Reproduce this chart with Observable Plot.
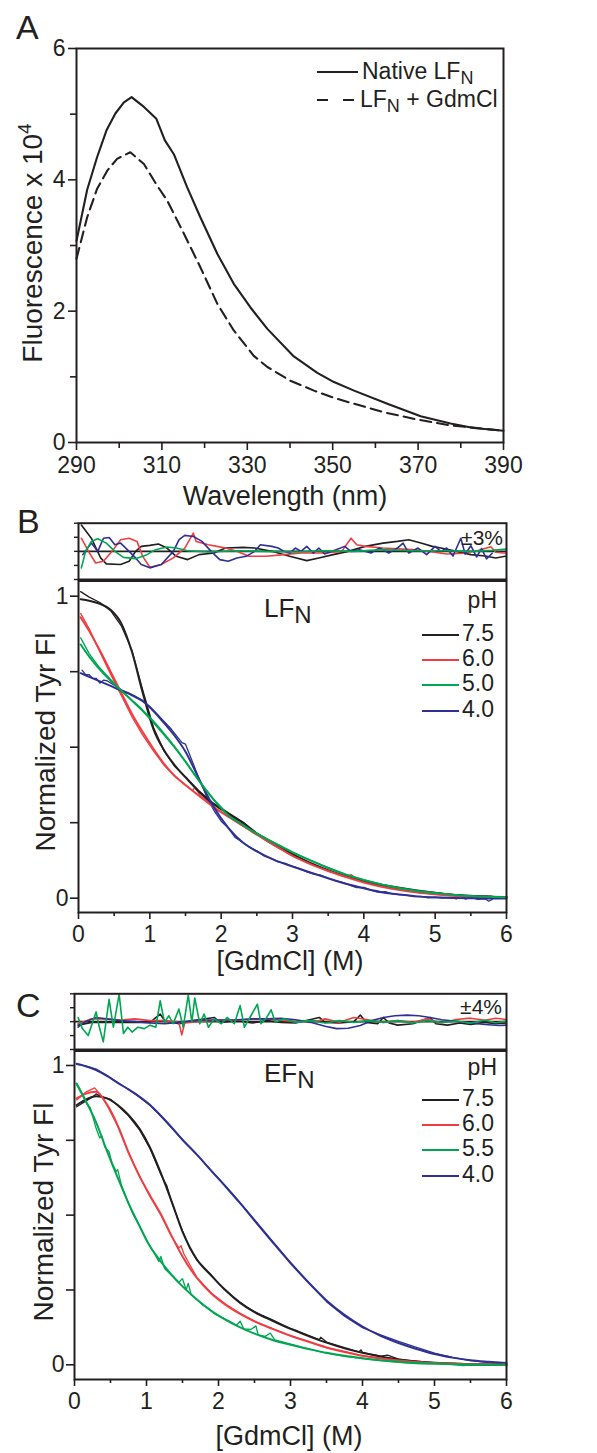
<!DOCTYPE html>
<html><head><meta charset="utf-8">
<script src="https://cdn.jsdelivr.net/npm/d3@7"></script>
<script src="https://cdn.jsdelivr.net/npm/@observablehq/plot@0.6"></script>
<style>
html,body{margin:0;padding:0;background:#fff;}
#fig{position:relative;width:597px;height:1453px;overflow:hidden;background:#fff;}
</style></head><body><div id="fig"></div>
<script>
const INK = "#231f20", RED = "#ef3e42", GREEN = "#00a651", BLUE = "#2e3192";
const FONT = '"Liberation Sans", Arial, Helvetica, sans-serif';

// ---------- Panel A : emission spectra ----------
const wlTicksMajor = [290, 310, 330, 350, 370, 390];
const wlTicksMinor = [300, 320, 340, 360, 380];
const fluTicksMajor = [0, 2, 4, 6];
const fluTicksMinor = [1, 3, 5];
const specNative = [[290,3.07],[292.5,3.85],[294.8,4.34],[297,4.75],[299.1,5.01],[301.1,5.18],[302.9,5.26],[305.8,5.11],[308.7,4.93],[310.7,4.60],[312.8,4.39],[315.9,3.89],[319,3.43],[323,2.87],[326.8,2.42],[330.7,2.06],[334.7,1.73],[340.9,1.31],[346.4,1.06],[350.3,0.92],[355,0.79],[362.8,0.59],[370.6,0.40],[377.6,0.29],[383,0.22],[390,0.18]];
const specGdm = [[290,2.80],[292.5,3.43],[294.8,3.86],[297.2,4.14],[299.5,4.32],[302.6,4.42],[305.8,4.24],[308.9,3.91],[311.2,3.69],[315,3.20],[319,2.67],[323,2.11],[326.8,1.71],[331.5,1.32],[334.7,1.15],[340.1,0.94],[345.6,0.79],[350.3,0.68],[355,0.59],[362,0.46],[369.8,0.35],[377.6,0.26],[385.4,0.21],[390,0.18]];

// ---------- shared GdmCl axes ----------
const mTicksMajor = [0, 1, 2, 3, 4, 5, 6];
const mTicksMinor = [0.5, 1.5, 2.5, 3.5, 4.5, 5.5];
const fiTicks = [0, 0.25, 0.5, 0.75, 1];
const fiLabels = [0, 1];
const resTicksB = [-3, -1.5, 0, 1.5, 3];
const resTicksC = [-4, -2, 0, 2, 4];

// ---------- Panel B : LFN ----------
const phB = ["7.5", "6.0", "5.0", "4.0"];
const fitB75 = [[0.03,0.99],[0.15,0.985],[0.3,0.975],[0.45,0.955],[0.6,0.91],[0.75,0.815],[0.9,0.68],[1.05,0.56],[1.2,0.49],[1.35,0.44],[1.5,0.40],[1.7,0.35],[1.9,0.31],[2.1,0.28],[2.3,0.25],[2.5,0.213],[2.75,0.175],[3,0.145],[3.25,0.117],[3.5,0.093],[3.75,0.073],[4,0.056],[4.25,0.043],[4.5,0.032],[4.75,0.023],[5,0.016],[5.25,0.011],[5.5,0.008],[5.75,0.005],[6,0.004]];
const datB75 = [[0.03,1.015],[0.15,0.997],[0.3,0.979],[0.45,0.952],[0.6,0.902],[0.75,0.82],[0.9,0.69],[1.05,0.566],[1.2,0.487],[1.35,0.436],[1.5,0.402],[1.7,0.353],[1.9,0.313],[2.1,0.283],[2.3,0.253],[2.5,0.216],[2.75,0.179],[3,0.147],[3.25,0.114],[3.5,0.09],[3.75,0.073],[4,0.058],[4.25,0.046],[4.5,0.036],[4.75,0.027],[5,0.019],[5.25,0.011],[5.5,0.006],[5.75,0.003],[5.95,0.001]];
const fitB60 = [[0.03,0.93],[0.15,0.885],[0.3,0.82],[0.45,0.75],[0.6,0.68],[0.75,0.61],[0.9,0.55],[1.05,0.495],[1.2,0.445],[1.35,0.405],[1.5,0.375],[1.7,0.337],[1.9,0.30],[2.1,0.27],[2.3,0.24],[2.5,0.21],[2.75,0.175],[3,0.14],[3.25,0.113],[3.5,0.09],[3.75,0.07],[4,0.052],[4.25,0.038],[4.5,0.027],[4.75,0.019],[5,0.013],[5.25,0.008],[5.5,0.005],[5.75,0.003],[6,0.002]];
const datB60 = [[0.03,0.943],[0.15,0.892],[0.3,0.815],[0.45,0.742],[0.6,0.671],[0.75,0.6],[0.9,0.54],[1.0,0.505],[1.05,0.488],[1.2,0.44],[1.35,0.403],[1.5,0.374],[1.6,0.356],[1.63,0.367],[1.7,0.342],[1.9,0.302],[2.1,0.27],[2.3,0.24],[2.5,0.21],[2.75,0.176],[3,0.142],[3.25,0.114],[3.5,0.09],[3.75,0.07],[3.82,0.078],[3.9,0.064],[4,0.055],[4.25,0.039],[4.5,0.028],[4.75,0.02],[5,0.013],[5.25,0.008],[5.5,0.005],[5.78,0.008],[5.85,0.003],[6,0.001]];
const fitB50 = [[0.03,0.84],[0.15,0.80],[0.3,0.757],[0.45,0.72],[0.6,0.687],[0.75,0.655],[0.9,0.622],[1.05,0.585],[1.2,0.544],[1.35,0.50],[1.5,0.452],[1.7,0.385],[1.9,0.325],[2.1,0.275],[2.3,0.243],[2.5,0.214],[2.75,0.182],[3,0.152],[3.25,0.125],[3.5,0.10],[3.75,0.078],[4,0.06],[4.25,0.045],[4.5,0.033],[4.75,0.024],[5,0.017],[5.25,0.011],[5.5,0.007],[5.75,0.005],[6,0.003]];
const datB50 = [[0.03,0.862],[0.15,0.81],[0.3,0.762],[0.45,0.724],[0.6,0.688],[0.75,0.653],[0.9,0.619],[1.05,0.581],[1.2,0.54],[1.35,0.498],[1.5,0.452],[1.7,0.386],[1.9,0.326],[2.1,0.277],[2.3,0.244],[2.5,0.215],[2.75,0.183],[3,0.153],[3.25,0.126],[3.5,0.101],[3.75,0.079],[4,0.061],[4.25,0.046],[4.5,0.034],[4.75,0.025],[5,0.018],[5.25,0.012],[5.5,0.007],[5.75,0.006],[6,0.005]];
const fitB40 = [[0.03,0.745],[0.15,0.733],[0.3,0.718],[0.45,0.703],[0.6,0.687],[0.75,0.672],[0.9,0.652],[1.05,0.62],[1.2,0.58],[1.35,0.537],[1.5,0.485],[1.7,0.39],[1.9,0.30],[2.1,0.233],[2.3,0.185],[2.5,0.155],[2.75,0.126],[3,0.105],[3.25,0.085],[3.5,0.066],[3.75,0.048],[4,0.033],[4.25,0.02],[4.5,0.012],[4.75,0.006],[5,0.003],[5.25,0.001],[5.5,0],[5.75,-0.001],[6,-0.001]];
const datB40 = [[0.05,0.755],[0.1,0.74],[0.15,0.74],[0.2,0.728],[0.25,0.728],[0.3,0.712],[0.35,0.722],[0.4,0.72],[0.5,0.705],[0.6,0.69],[0.7,0.68],[0.8,0.668],[0.9,0.655],[1.0,0.635],[1.1,0.61],[1.2,0.585],[1.3,0.56],[1.4,0.53],[1.45,0.515],[1.5,0.51],[1.6,0.45],[1.7,0.39],[1.8,0.335],[1.9,0.29],[2.0,0.255],[2.1,0.232],[2.2,0.2],[2.3,0.185],[2.4,0.168],[2.5,0.157],[2.6,0.14],[2.7,0.132],[2.8,0.12],[2.9,0.115],[3.0,0.105],[3.1,0.098],[3.2,0.087],[3.3,0.08],[3.4,0.076],[3.5,0.066],[3.6,0.058],[3.7,0.052],[3.8,0.043],[3.9,0.035],[4.0,0.036],[4.1,0.027],[4.2,0.02],[4.3,0.022],[4.4,0.014],[4.5,0.012],[4.6,0.01],[4.7,0.005],[4.8,0.006],[4.9,0.001],[5.0,0.003],[5.1,0.0],[5.2,0.002],[5.3,-0.002],[5.36,0.01],[5.42,-0.003],[5.5,0.002],[5.6,-0.004],[5.7,-0.002],[5.75,-0.01],[5.8,-0.004]];
const resB75 = [[0.04,2.8],[0.18,1.4],[0.31,-0.7],[0.39,-1.34],[0.59,-1.4],[0.71,-1.06],[0.80,0],[0.88,0.53],[1.0,0.64],[1.12,0.78],[1.24,0.35],[1.37,-0.53],[1.53,-0.88],[1.69,-0.35],[1.90,-0.18],[2.06,0.35],[2.31,0.42],[2.47,0.35],[2.71,0],[2.96,-0.53],[3.2,-0.99],[3.37,-0.7],[3.57,-0.35],[3.78,0],[4.02,0.53],[4.27,0.88],[4.47,1.06],[4.63,1.24],[4.80,0.88],[4.96,0.53],[5.08,0.35],[5.3,0.0],[5.5,-0.35],[5.7,-0.5],[5.85,-0.7],[6.0,-0.5]];
const resB60 = [[0.04,1.4],[0.14,0],[0.24,-1.24],[0.35,-1.06],[0.47,0],[0.59,1.24],[0.71,1.4],[0.82,1.06],[0.90,-0.53],[1.0,-1.7],[1.16,-1.4],[1.33,-0.7],[1.49,0.35],[1.61,1.94],[1.65,1.06],[1.82,0.7],[1.94,0.53],[2.06,0.35],[2.22,0],[2.39,-0.53],[2.63,-0.53],[2.88,-0.35],[3.12,-0.18],[3.45,-0.18],[3.69,0],[3.82,1.4],[3.90,0.7],[4.02,0.53],[4.27,0.35],[4.67,0.18],[4.92,0],[5.16,-0.28],[5.4,-0.2],[5.6,0.1],[5.78,0.5],[5.85,-0.1],[6.0,-0.2]];
const resB50 = [[0.04,-1.76],[0.10,0],[0.18,1.06],[0.27,1.34],[0.39,0.88],[0.51,0],[0.63,-0.64],[0.80,-0.78],[0.96,-0.35],[1.08,0.18],[1.24,0.46],[1.37,0.35],[1.53,0.07],[1.82,-0.07],[2.22,0.07],[2.63,0],[3.04,-0.07],[3.45,0.07],[3.86,0],[4.27,0.18],[4.67,0.07],[5.16,0.07],[5.5,0],[5.8,0.1],[6.0,0.25]];
const resB40 = [[0.06,-0.35],[0.18,0.88],[0.27,0],[0.35,1.4],[0.43,1.48],[0.51,0.7],[0.59,0.88],[0.71,0],[0.80,-0.7],[0.88,-1.4],[1.0,-1.76],[1.16,-1.4],[1.33,0],[1.41,1.24],[1.49,1.7],[1.61,1.59],[1.73,1.06],[1.86,0],[1.98,-0.88],[2.10,-1.06],[2.22,-0.7],[2.35,-0.53],[2.47,0],[2.55,0.7],[2.71,0.53],[2.80,0.35],[2.88,0],[2.96,-0.18],[3.04,0.35],[3.12,0],[3.20,0.53],[3.29,-0.18],[3.37,0.35],[3.45,-0.28],[3.61,0.18],[3.73,0.53],[3.82,0],[3.94,0.18],[4.10,-0.18],[4.22,0.35],[4.35,-0.18],[4.47,0.35],[4.55,0.88],[4.63,-0.18],[4.76,0.35],[4.88,-0.35],[5.0,0.53],[5.08,0],[5.16,0.35],[5.25,-0.5],[5.36,1.4],[5.42,-0.3],[5.5,0.6],[5.58,-0.6],[5.65,0.3],[5.72,-0.8],[5.8,-0.2]];

// ---------- Panel C : EFN ----------
const phC = ["7.5", "6.0", "5.5", "4.0"];
const fitC75 = [[0.03,0.868],[0.15,0.885],[0.3,0.897],[0.45,0.89],[0.6,0.868],[0.75,0.835],[0.9,0.79],[1.05,0.725],[1.2,0.64],[1.35,0.545],[1.5,0.445],[1.7,0.352],[1.9,0.298],[2.1,0.248],[2.3,0.207],[2.5,0.176],[2.75,0.147],[3,0.12],[3.25,0.096],[3.5,0.074],[3.75,0.055],[4,0.04],[4.25,0.028],[4.5,0.018],[4.75,0.011],[5,0.007],[5.25,0.004],[5.5,0.002],[5.75,0.001],[6,0]];
const datC75 = [[0.03,0.862],[0.15,0.88],[0.25,0.895],[0.3,0.905],[0.38,0.895],[0.5,0.887],[0.6,0.866],[0.75,0.832],[0.9,0.786],[1.05,0.722],[1.2,0.636],[1.25,0.612],[1.28,0.6],[1.35,0.543],[1.5,0.447],[1.6,0.39],[1.7,0.35],[1.8,0.325],[1.9,0.3],[2.0,0.272],[2.1,0.25],[2.2,0.228],[2.3,0.209],[2.4,0.192],[2.5,0.178],[2.6,0.166],[2.75,0.15],[2.9,0.133],[3.0,0.122],[3.1,0.113],[3.25,0.098],[3.4,0.084],[3.42,0.092],[3.5,0.076],[3.75,0.057],[3.95,0.043],[3.98,0.05],[4.0,0.041],[4.25,0.029],[4.35,0.032],[4.5,0.019],[4.75,0.012],[5.0,0.006],[5.25,0.002],[5.5,-0.001],[5.75,0.0],[5.95,-0.002]];
const fitC60 = [[0.03,0.89],[0.15,0.905],[0.3,0.912],[0.45,0.87],[0.6,0.80],[0.75,0.71],[0.9,0.632],[1.05,0.565],[1.2,0.503],[1.35,0.43],[1.5,0.362],[1.7,0.29],[1.9,0.238],[2.1,0.2],[2.3,0.17],[2.5,0.145],[2.75,0.12],[3,0.097],[3.25,0.077],[3.5,0.058],[3.75,0.043],[4,0.03],[4.25,0.021],[4.5,0.014],[4.75,0.009],[5,0.006],[5.25,0.004],[5.5,0.002],[5.75,0.001],[6,0]];
const datC60 = [[0.03,0.885],[0.15,0.91],[0.28,0.925],[0.35,0.905],[0.45,0.868],[0.6,0.797],[0.75,0.708],[0.9,0.63],[1.05,0.562],[1.2,0.5],[1.35,0.428],[1.45,0.39],[1.48,0.398],[1.52,0.37],[1.6,0.335],[1.7,0.292],[1.9,0.24],[2.1,0.202],[2.3,0.172],[2.5,0.146],[2.75,0.121],[3,0.097],[3.25,0.078],[3.5,0.057],[3.75,0.045],[4,0.03],[4.25,0.023],[4.5,0.013],[4.75,0.01],[5,0.005],[5.25,0.005],[5.5,0.001],[5.75,0.002],[5.95,-0.001]];
const fitC55 = [[0.03,0.94],[0.15,0.885],[0.3,0.81],[0.45,0.715],[0.6,0.625],[0.75,0.54],[0.9,0.465],[1.05,0.395],[1.2,0.345],[1.35,0.30],[1.5,0.262],[1.7,0.218],[1.9,0.18],[2.1,0.15],[2.3,0.125],[2.5,0.104],[2.75,0.083],[3,0.067],[3.25,0.053],[3.5,0.04],[3.75,0.03],[4,0.022],[4.25,0.015],[4.5,0.01],[4.75,0.006],[5,0.004],[5.25,0.002],[5.5,0.001],[5.75,0],[6,0]];
const datC55 = [[0.03,0.935],[0.1,0.905],[0.17,0.872],[0.22,0.858],[0.27,0.815],[0.3,0.79],[0.35,0.758],[0.38,0.765],[0.42,0.728],[0.48,0.712],[0.52,0.675],[0.58,0.646],[0.6,0.652],[0.65,0.602],[0.7,0.57],[0.75,0.538],[0.82,0.5],[0.9,0.466],[1.0,0.416],[1.1,0.376],[1.17,0.345],[1.2,0.362],[1.25,0.322],[1.3,0.31],[1.4,0.287],[1.45,0.276],[1.5,0.288],[1.55,0.25],[1.58,0.272],[1.62,0.234],[1.7,0.218],[1.78,0.2],[1.85,0.19],[1.95,0.17],[2.05,0.158],[2.15,0.146],[2.25,0.132],[2.3,0.146],[2.35,0.12],[2.45,0.118],[2.52,0.13],[2.55,0.1],[2.65,0.095],[2.72,0.106],[2.78,0.083],[2.9,0.076],[3.1,0.062],[3.3,0.05],[3.5,0.039],[3.75,0.028],[4,0.021],[4.25,0.014],[4.5,0.008],[4.75,0.004],[5,0.003],[5.2,0.002],[5.4,-0.003],[5.6,0.001],[5.8,-0.002],[6,0.001]];
const fitC40 = [[0.03,1.006],[0.15,0.998],[0.3,0.985],[0.45,0.965],[0.6,0.942],[0.75,0.92],[0.9,0.896],[1.05,0.868],[1.2,0.832],[1.35,0.793],[1.5,0.752],[1.7,0.702],[1.9,0.648],[2.1,0.595],[2.3,0.54],[2.5,0.482],[2.75,0.41],[3,0.34],[3.25,0.275],[3.5,0.215],[3.75,0.167],[4,0.128],[4.25,0.097],[4.5,0.073],[4.75,0.053],[5,0.036],[5.25,0.024],[5.5,0.015],[5.75,0.01],[6,0.006]];
const datC40 = [[0.03,1.004],[0.15,0.999],[0.3,0.988],[0.45,0.967],[0.6,0.943],[0.75,0.92],[0.9,0.895],[1.05,0.866],[1.2,0.83],[1.35,0.791],[1.5,0.751],[1.7,0.702],[1.9,0.649],[2.1,0.597],[2.3,0.542],[2.5,0.485],[2.75,0.413],[3,0.342],[3.25,0.276],[3.5,0.211],[3.75,0.162],[4,0.124],[4.25,0.1],[4.5,0.078],[4.75,0.058],[5,0.039],[5.25,0.025],[5.5,0.014],[5.75,0.007],[5.95,0.003]];
const resC75 = [[0.05,-0.5],[0.24,-0.1],[0.64,-0.1],[1.05,-0.1],[1.19,1.1],[1.25,0.15],[1.45,-0.3],[1.65,0.15],[1.94,0.6],[2.02,-0.1],[2.26,0.15],[2.47,-0.2],[2.67,0.15],[2.87,-0.1],[3.07,-0.2],[3.40,0.6],[3.48,-0.1],[3.68,-0.2],[3.88,0],[3.97,0.95],[4.05,-0.1],[4.21,-0.3],[4.29,0.6],[4.37,-0.2],[4.49,-0.5],[4.70,-0.3],[4.94,0.6],[5.02,-0.3],[5.18,-0.5],[5.35,-0.2],[5.5,-0.4],[5.7,-0.1],[5.85,-0.3],[6.0,-0.2]];
const resC60 = [[0.05,-0.3],[0.24,0.4],[0.44,0.4],[0.64,0.24],[0.84,0.4],[1.05,0.15],[1.25,0.15],[1.45,-0.1],[1.49,-1.9],[1.53,-0.2],[1.86,0.15],[2.26,0.24],[2.67,0.4],[3.07,0],[3.40,0.15],[3.48,0.4],[3.68,-0.1],[3.88,0.6],[4.09,0.24],[4.29,-0.1],[4.49,0.15],[4.70,-0.1],[4.90,0.4],[5.10,-0.2],[5.3,0.3],[5.5,0.5],[5.7,0.2],[5.85,0.5],[6.0,0.3]];
const resC55 = [[0.05,0.6],[0.11,-1.0],[0.19,-2.0],[0.30,1.4],[0.34,-0.6],[0.40,-2.9],[0.48,3.2],[0.54,-0.8],[0.62,3.95],[0.68,-1.7],[0.74,-0.8],[0.80,-1.5],[0.88,-0.8],[0.97,-1.0],[1.05,-0.5],[1.13,-0.8],[1.19,3.0],[1.25,-0.1],[1.31,0.85],[1.37,-0.3],[1.45,1.8],[1.51,-0.8],[1.58,3.8],[1.63,-0.1],[1.67,3.4],[1.74,-0.3],[1.80,1.1],[1.86,-0.8],[1.94,0.4],[2.04,-0.3],[2.12,0.6],[2.22,-0.3],[2.30,2.3],[2.36,-0.8],[2.45,0.85],[2.54,2.5],[2.59,-0.3],[2.67,0.6],[2.73,1.7],[2.79,-0.1],[2.91,0.4],[3.07,-0.1],[3.28,0.15],[3.48,-0.2],[3.68,0.15],[3.88,-0.1],[4.09,0.15],[4.29,-0.1],[4.49,0.15],[4.70,-0.2],[4.90,0.15],[5.10,-0.1],[5.3,0.1],[5.5,-0.2],[5.7,0.2],[5.85,-0.15],[6.0,0.1]];
const resC40 = [[0.05,-0.8],[0.15,0],[0.30,0.6],[0.44,0.4],[0.64,0.15],[0.84,0],[1.05,-0.2],[1.25,-0.3],[1.45,-0.1],[1.65,0.15],[1.86,0.24],[2.06,0.24],[2.26,0.28],[2.47,0.4],[2.67,0.4],[2.87,0.47],[3.07,0.28],[3.28,-0.1],[3.48,-0.66],[3.64,-1.0],[3.80,-0.94],[3.97,-0.56],[4.13,0.15],[4.29,0.6],[4.45,0.85],[4.62,0.94],[4.78,0.85],[4.94,0.6],[5.10,0.28],[5.3,0.05],[5.5,-0.2],[5.7,-0.4],[5.9,-0.55],[6.0,-0.5]];

// ---------- text ----------
const panelLetters = ["A", "B", "C"];
const xTitleA = "Wavelength (nm)";
const yTitleA = "Fluorescence x 10";
const xTitleM = "[GdmCl] (M)";
const yTitleFI = "Normalized Tyr Fl";
const legendA = ["Native LF", "LF"];
const resLabels = ["\u00b13%", "\u00b14%"];

// ---------- helpers ----------
const fig = document.getElementById("fig");
const rows = p => p.map(([x, y]) => ({x, y}));
const style = {fontFamily: FONT, fontSize: "23px", color: INK, background: "transparent", overflow: "visible"};
const TICK_FONT = 23;
function place(svg, top) {
  svg.style.position = "absolute";
  svg.style.left = "0px";
  svg.style.top = top + "px";
  fig.appendChild(svg);
}
const blank = () => "";
const plain = d => String(d);

// Panel A
place(Plot.plot({
  width: 597, height: 520, marginTop: 48, marginBottom: 78, marginLeft: 76, marginRight: 94,
  style,
  x: {domain: [290, 390], label: null}, y: {domain: [0, 6], label: null},
  marks: [
    Plot.axisX({ticks: wlTicksMajor, tickSize: 8, tickPadding: 6, tickFormat: plain, label: null, strokeWidth: 1.6, fontSize: TICK_FONT}),
    Plot.axisX({ticks: wlTicksMinor, tickSize: 6, tickFormat: blank, label: null, strokeWidth: 1.6}),
    Plot.axisY({ticks: fluTicksMajor, tickSize: 8, tickPadding: 3, tickFormat: plain, label: null, strokeWidth: 1.6, fontSize: TICK_FONT}),
    Plot.axisY({ticks: fluTicksMinor, tickSize: 6, tickFormat: blank, label: null, strokeWidth: 1.6}),
    Plot.line(rows(specNative), {x: "x", y: "y", stroke: INK, strokeWidth: 2.1}),
    Plot.line(rows(specGdm), {x: "x", y: "y", stroke: INK, strokeWidth: 2.1, strokeDasharray: "11,6"}),
    Plot.frame({stroke: INK, strokeWidth: 2})
  ]
}), 0);

function residualPlot(series, domain, ticks, left, height, mTop, mBottom) {
  return Plot.plot({
    width: 597, height, marginTop: mTop, marginBottom: mBottom, marginLeft: left, marginRight: 91,
    style,
    x: {domain: [0, 6], axis: null, label: null}, y: {domain, label: null},
    marks: [
      Plot.axisY({ticks, tickSize: 4, tickFormat: blank, label: null, strokeWidth: 1.4}),
      Plot.ruleY([0], {stroke: INK, strokeWidth: 1.8}),
      ...series.map(([p, c]) => Plot.line(rows(p), {x: "x", y: "y", stroke: c, strokeWidth: 1.6})),
      Plot.frame({stroke: INK, strokeWidth: 2})
    ]
  });
}

function mainPlot(fits, dats, domain, left, height, mTop, mBottom) {
  return Plot.plot({
    width: 597, height, marginTop: mTop, marginBottom: mBottom, marginLeft: left, marginRight: 91,
    style,
    x: {domain: [0, 6], label: null}, y: {domain, label: null},
    marks: [
      Plot.axisX({ticks: mTicksMajor, tickSize: 7, tickPadding: 6, tickFormat: plain, label: null, strokeWidth: 1.6, fontSize: TICK_FONT}),
      Plot.axisX({ticks: mTicksMinor, tickSize: 4, tickFormat: blank, label: null, strokeWidth: 1.6}),
      Plot.axisY({ticks: fiTicks, tickSize: 8, tickPadding: 2, label: null, strokeWidth: 1.6, fontSize: TICK_FONT,
                  tickFormat: d => fiLabels.includes(d) ? String(d) : ""}),
      ...dats.map(([p, c]) => Plot.line(rows(p), {x: "x", y: "y", stroke: c, strokeWidth: 1.3})),
      ...fits.map(([p, c]) => Plot.line(rows(p), {x: "x", y: "y", stroke: c, strokeWidth: 2, curve: "monotone-x"})),
      Plot.frame({stroke: INK, strokeWidth: 2})
    ]
  });
}

// Panel B
place(residualPlot([[resB75, INK], [resB60, RED], [resB40, BLUE], [resB50, GREEN]],
  [-3, 3], resTicksB, 78, 85, 17.7, 11), 505);
place(mainPlot(
  [[fitB75, INK], [fitB60, RED], [fitB40, BLUE], [fitB50, GREEN]],
  [[datB75, INK], [datB60, RED], [datB40, BLUE], [datB50, GREEN]],
  [-0.0474, 1.0503], 78, 400, 1.5, 67), 579);

// Panel C
place(residualPlot([[resC75, INK], [resC60, RED], [resC40, BLUE], [resC55, GREEN]],
  [-4, 4], resTicksC, 74, 76, 18.3, 2), 975);
place(mainPlot(
  [[fitC40, BLUE], [fitC75, INK], [fitC60, RED], [fitC55, GREEN]],
  [[datC40, BLUE], [datC75, INK], [datC60, RED], [datC55, GREEN]],
  [-0.0491, 1.0484], 74, 404, 1.5, 74), 1049);

// ---------- overlay text & legends ----------
const ov = d3.create("svg").attr("width", 597).attr("height", 1453)
  .style("position", "absolute").style("left", "0px").style("top", "0px")
  .attr("font-family", FONT).attr("fill", INK);

function text(s, x, y, size, anchor = "start") {
  return ov.append("text").attr("x", x).attr("y", y).attr("font-size", size).attr("text-anchor", anchor).text(s);
}
// panel letters
text(panelLetters[0], 16, 39, 34);
text(panelLetters[1], 17, 533, 34);
text(panelLetters[2], 16, 1017, 34);
// x titles
text(xTitleA, 285, 505, 27, "middle");
text(xTitleM, 290, 970, 27, "middle");
text(xTitleM, 289, 1445, 27, "middle");
// y titles
const ytA = ov.append("text").attr("transform", "translate(42,243) rotate(-90)").attr("font-size", 28).attr("text-anchor", "middle");
ytA.append("tspan").text(yTitleA);
ytA.append("tspan").attr("font-size", 19).attr("dy", -11).text("4");
ov.append("text").attr("transform", "translate(55,742) rotate(-90)").attr("font-size", 28).attr("text-anchor", "middle").text(yTitleFI);
ov.append("text").attr("transform", "translate(53,1212) rotate(-90)").attr("font-size", 28).attr("text-anchor", "middle").text(yTitleFI);

// legend A
ov.append("line").attr("x1", 317).attr("x2", 358).attr("y1", 72).attr("y2", 72).attr("stroke", INK).attr("stroke-width", 2.1);
ov.append("line").attr("x1", 317).attr("x2", 354).attr("y1", 100).attr("y2", 100).attr("stroke", INK).attr("stroke-width", 2.1).attr("stroke-dasharray", "11,15");
const la1 = ov.append("text").attr("x", 362).attr("y", 79).attr("font-size", 23);
la1.append("tspan").text(legendA[0]);
la1.append("tspan").attr("font-size", 18).attr("dy", 5).text("N");
const la2 = ov.append("text").attr("x", 360).attr("y", 107).attr("font-size", 23);
la2.append("tspan").text(legendA[1]);
la2.append("tspan").attr("font-size", 18).attr("dy", 5).text("N");
la2.append("tspan").attr("dy", -5).text(" + GdmCl");

// panel titles
function protein(name, x, y) {
  const t = ov.append("text").attr("x", x).attr("y", y).attr("font-size", 26);
  t.append("tspan").text(name);
  t.append("tspan").attr("font-size", 24).attr("dy", 6).text("N");
}
protein("LF", 264, 617);
protein("EF", 264, 1082);

// pH legends
function phLegend(labels, colors, ys, pHy) {
  text("pH", 497, pHy, 23, "end");
  labels.forEach((l, i) => {
    ov.append("line").attr("x1", 422).attr("x2", 459).attr("y1", ys[i]).attr("y2", ys[i]).attr("stroke", colors[i]).attr("stroke-width", 2.2);
    text(l, 462, ys[i] + 6, 23);
  });
}
phLegend(phB, [INK, RED, GREEN, BLUE], [635, 660, 685, 711], 608);
phLegend(phC, [INK, RED, GREEN, BLUE], [1100, 1125, 1150, 1176], 1075);

// residual range labels
text(resLabels[0], 503, 545, 21, "end");
text(resLabels[1], 502, 1014, 21, "end");

fig.appendChild(ov.node());
</script>
</body></html>
